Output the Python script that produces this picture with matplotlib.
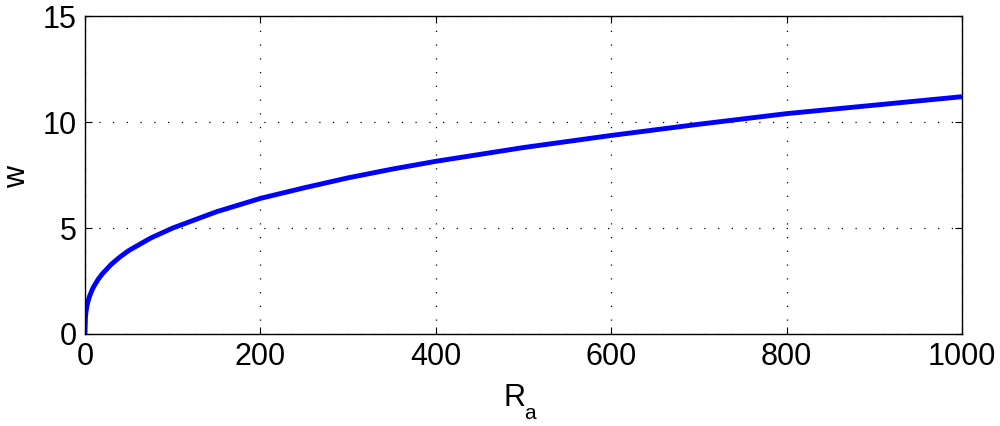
import numpy as np
import matplotlib.pyplot as plt

# values
ra = [0, 0.5, 1, 2, 3, 5, 8, 10, 15, 20, 30, 40, 50, 75, 100, 150, 200,
      250, 300, 350, 400, 500, 600, 700, 800, 900, 1000]
w = [0, 0.78, 1.0, 1.27, 1.47, 1.76, 2.07, 2.24, 2.58, 2.85, 3.29, 3.64,
     3.94, 4.53, 5.0, 5.77, 6.4, 6.9, 7.37, 7.78, 8.15, 8.8, 9.37, 9.9,
     10.4, 10.8, 11.2]

xticks = [0, 200, 400, 600, 800, 1000]
yticks = [0, 5, 10, 15]

plt.rcParams['font.family'] = ['Liberation Sans', 'DejaVu Sans']

fig = plt.figure(figsize=(10, 4.26), dpi=100)
ax = fig.add_axes([0.085, 0.216, 0.877, 0.746])

ax.plot(ra, w, color='#0000ff', linewidth=3.5, solid_capstyle='butt')

ax.set_xlim(0, 1000)
ax.set_ylim(0, 15)
ax.set_xticks(xticks)
ax.set_yticks(yticks)
ax.tick_params(direction='in', top=True, right=True, length=5, width=0.8,
               labelsize=22, pad=6)
ax.grid(True, color='black', linestyle=(0, (1, 10)), linewidth=0.9)
for s in ax.spines.values():
    s.set_linewidth(1.0)

# axis labels: MATLAB-style subscript sits quite low, so draw it separately
fig.text(0.514, 0.047, 'R', fontsize=22, ha='center', va='baseline')
fig.text(0.524, 0.016, 'a', fontsize=15, ha='left', va='baseline')
fig.text(0.017, 0.585, 'w', fontsize=22, rotation=90, ha='center', va='center')

fig.savefig('out.png', dpi=100)
